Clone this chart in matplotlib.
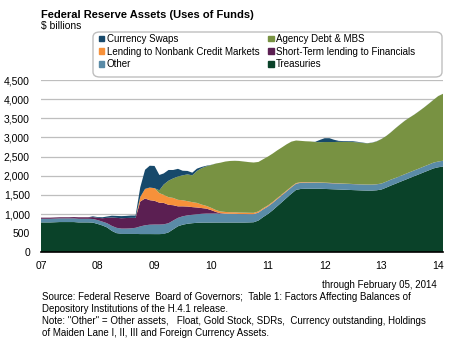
#!/usr/bin/env python3

import pandas as pd
import matplotlib
matplotlib.use("Agg")
from matplotlib import pyplot as plt
from matplotlib.patches import Patch, FancyBboxPatch
from matplotlib.ticker import FuncFormatter
import matplotlib.dates as mdates

plt.rcParams["font.family"] = ["Liberation Sans", "DejaVu Sans"]

# monthly, Jan 2007 .. Feb 2014 ($ billions)
dates = pd.date_range("2007-01-01", "2014-02-01", freq="MS")

treasuries = [
    780, 780, 780, 785, 790, 790, 790, 790, 780, 780, 780, 775,
    740, 700, 650, 560, 500, 480, 480, 480, 480, 476, 476, 476,
    475, 475, 480, 520, 600, 680, 720, 745, 760, 770, 775, 776,
    776, 777, 777, 777, 777, 777, 777, 777, 780, 785, 830, 920,
    1000, 1100, 1200, 1310, 1420, 1530, 1630, 1655, 1660, 1660, 1660, 1660,
    1655, 1650, 1645, 1640, 1635, 1630, 1625, 1620, 1615, 1612, 1612, 1620,
    1640, 1690, 1740, 1790, 1840, 1890, 1940, 1990, 2040, 2090, 2140, 2190,
    2220, 2240]

other = [
    95, 95, 95, 95, 95, 95, 95, 95, 95, 95, 95, 95,
    100, 100, 110, 130, 140, 140, 140, 145, 160, 200, 230, 245,
    250, 250, 250, 240, 230, 220, 220, 220, 220, 225, 230, 235,
    235, 235, 230, 230, 225, 225, 220, 220, 215, 210, 205, 200,
    195, 190, 185, 180, 170, 165, 160, 160, 158, 158, 156, 155,
    155, 155, 155, 155, 155, 155, 155, 155, 155, 155, 155, 155,
    155, 155, 155, 150, 150, 150, 150, 150, 150, 150, 150, 150,
    150, 150]

short_term = [
    30, 30, 30, 30, 30, 30, 30, 35, 40, 40, 40, 50,
    60, 90, 140, 220, 260, 270, 275, 275, 260, 650, 700, 640,
    620, 570, 560, 480, 400, 300, 260, 230, 200, 175, 150, 130,
    90, 40, 15, 5, 5, 3, 3, 3, 3, 3, 3, 3,
    3, 2, 2, 2, 2, 2, 2, 2, 2, 2, 2, 2,
    2, 2, 2, 2, 2, 2, 2, 2, 2, 2, 2, 2,
    1, 1, 1, 1, 1, 1, 1, 1, 1, 1, 1, 1,
    1, 1]

nonbank = [
    0, 0, 0, 0, 0, 0, 0, 0, 0, 0, 0, 0,
    0, 0, 0, 0, 0, 0, 0, 0, 0, 120, 250, 330,
    330, 250, 210, 200, 190, 170, 160, 140, 130, 120, 90, 70,
    60, 50, 45, 42, 40, 40, 38, 36, 35, 33, 30, 28,
    26, 25, 24, 22, 20, 18, 16, 14, 12, 11, 10, 9,
    8, 7, 6, 5, 4, 3, 2, 2, 1, 1, 1, 1,
    0, 0, 0, 0, 0, 0, 0, 0, 0, 0, 0, 0,
    0, 0]

agency = [
    0, 0, 0, 0, 0, 0, 0, 0, 0, 0, 0, 0,
    0, 0, 0, 0, 0, 0, 0, 0, 0, 0, 0, 0,
    0, 75, 270, 430, 510, 610, 650, 700, 700, 835, 955, 1035,
    1119, 1217, 1273, 1316, 1338, 1344, 1346, 1333, 1322, 1314, 1292, 1279,
    1276, 1263, 1249, 1226, 1208, 1175, 1112, 1079, 1068, 1064, 1052, 1049,
    1060, 1066, 1072, 1083, 1089, 1090, 1096, 1091, 1082, 1075, 1090, 1117,
    1162, 1192, 1232, 1297, 1347, 1397, 1427, 1457, 1497, 1537, 1587, 1637,
    1708, 1748]

swaps = [
    0, 0, 0, 0, 0, 0, 0, 0, 0, 0, 0, 20,
    20, 25, 35, 45, 50, 55, 55, 60, 60, 250, 500, 570,
    580, 400, 290, 280, 220, 200, 120, 90, 70, 60, 30, 15,
    5, 1, 0, 0, 0, 1, 1, 1, 0, 0, 0, 0,
    0, 0, 0, 0, 0, 0, 0, 0, 0, 0, 5, 60,
    100, 100, 60, 25, 20, 20, 20, 15, 10, 5, 5, 5,
    2, 2, 2, 2, 2, 2, 2, 2, 2, 2, 2, 2,
    1, 1]

labels = ["Treasuries", "Other", "Short-Term lending to Financials",
          "Lending to Nonbank Credit Markets", "Agency Debt & MBS",
          "Currency Swaps"]
colors = ["#0A4229", "#5A8BA7", "#5B1F52", "#F7913A", "#789242", "#17496B"]

year_ticks = pd.date_range("2007-01-01", "2014-01-01", freq="YS")
year_labels = ["07", "08", "09", "10", "11", "12", "13", "14"]
y_ticks = list(range(0, 5000, 500))


def main():
    fig = plt.figure(figsize=(4.5, 3.42), dpi=100)
    ax = fig.add_axes([41 / 450, 1 - 252.3 / 342, 402 / 450, 172.3 / 342])

    ax.stackplot(dates, treasuries, other, short_term, nonbank, agency, swaps,
                 colors=colors, linewidth=0, zorder=2)

    ax.set_xlim(dates[0], dates[-1])
    ax.set_ylim(0, 4500)
    ax.set_yticks(y_ticks)
    ax.yaxis.set_major_formatter(FuncFormatter(lambda v, p: f"{v:,.0f}"))
    ax.set_xticks(year_ticks)
    ax.set_xticklabels(year_labels)
    ax.tick_params(axis="both", length=0, labelsize=7.5, colors="black")
    ax.tick_params(axis="x", pad=6)
    ax.tick_params(axis="y", pad=8)
    ax.grid(axis="y", color="#BEBEBE", linewidth=0.9, zorder=1)
    ax.set_axisbelow(True)
    for side in ["left", "right", "top"]:
        ax.spines[side].set_visible(False)
    ax.spines["bottom"].set_color("black")
    ax.spines["bottom"].set_linewidth(1.2)
    ax.spines["bottom"].set_zorder(3)

    fig.text(41 / 450, 1 - 14.5 / 342, "Federal Reserve Assets (Uses of Funds)",
             fontsize=8, fontweight="bold", va="center", ha="left")
    fig.text(41 / 450, 1 - 26 / 342, "$ billions", fontsize=7.5,
             va="center", ha="left")

    # legend box
    box = FancyBboxPatch((93 / 450, 1 - 77 / 342), 349 / 450, 45 / 342,
                         boxstyle="round,pad=0,rounding_size=0.015",
                         transform=fig.transFigure, facecolor="white",
                         edgecolor="#BFBFBF", linewidth=1.0)
    fig.patches.append(box)
    handles = [Patch(color=c) for c in colors]
    # matplotlib fills columns first, excel fills rows first
    order = [5, 3, 1, 4, 2, 0]
    fig.legend([handles[i] for i in order], [labels[i] for i in order],
               ncol=2, loc="upper left", bbox_to_anchor=(99 / 450, 1 - 34 / 342),
               frameon=False, fontsize=7, handlelength=0.55, handleheight=0.55,
               handletextpad=0.25, labelspacing=0.28, columnspacing=0.9,
               borderaxespad=0, borderpad=0)

    fig.text(437 / 450, 1 - 285 / 342, "through February 05, 2014",
             fontsize=7, ha="right", va="center")
    notes = [
        "Source: Federal Reserve  Board of Governors;  Table 1: Factors Affecting Balances of",
        "Depository Institutions of the H.4.1 release.",
        "Note: \"Other\" = Other assets,   Float, Gold Stock, SDRs,  Currency outstanding, Holdings",
        "of Maiden Lane I, II, III and Foreign Currency Assets.",
    ]
    for i, line in enumerate(notes):
        fig.text(42 / 450, 1 - (297 + 12 * i) / 342, line, fontsize=7,
                 ha="left", va="center")

    fig.savefig("out.png", dpi=100)


if __name__ == "__main__":
    main()
